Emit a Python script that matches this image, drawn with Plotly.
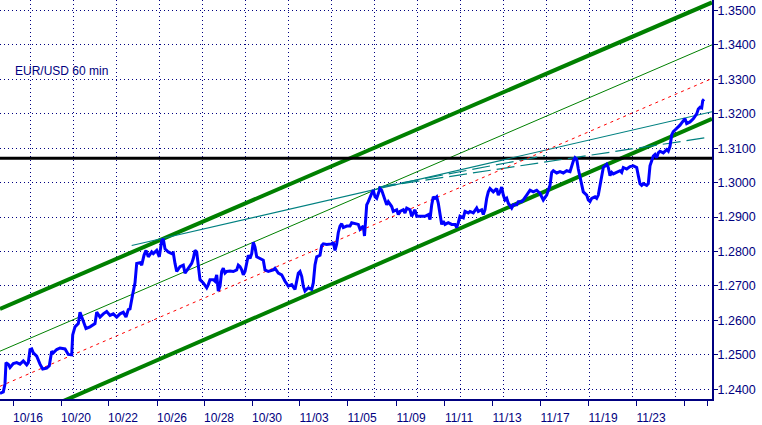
import plotly.graph_objects as go

# ---------------- data (x = hourly bar index, y = EUR/USD price) ----------------
hours = [0, 3.3, 5, 6, 8.3, 10, 13.3, 16.7, 20, 23.3, 26.7, 28.3, 30, 31.7, 33.3, 36.7, 40, 42.7, 46.7, 49.3,
         51.7, 53.3, 56.7, 60, 65, 68.3, 71.7, 72.7, 75, 78.3, 80, 82.7, 86, 90, 95, 96.7, 100, 103.3, 106.7, 110,
         113.3, 116.7, 120, 123.3, 126, 128.3, 130, 132.7, 135, 136.7, 140, 141.7, 144, 146, 148.3, 151.7, 153.3,
         156.7, 159.3, 161.7, 163.3, 165, 168.3, 171.7, 173.3, 175, 176.7, 180,
         183.3, 185, 188.3, 191.7, 193.3, 195, 196.7, 198.3, 200, 203.3, 206.7, 208.3, 210, 213.3, 215, 216.7,
         218.3, 220, 221.7, 223.3, 225, 226.7, 230, 233.3, 236.7, 238.3, 240, 241.7, 243.3, 245, 248.3, 250,
         251.7, 253.3, 255, 256.7, 260, 263.3, 265, 268.3, 273.3, 275, 278.3, 281.7, 285, 288.3, 291.7, 295,
         298.3, 300, 301.7, 303.3, 305, 308.3, 311.7, 313.3, 315, 316.7, 320, 321.7, 323.3, 326.7, 331.7, 333.3,
         335, 336.7, 338.3, 340, 341.7, 343.3, 346.7, 350, 351.7, 355, 358.3, 360,
         363.3, 364.5, 366.7, 368.3, 370, 371.7, 373.3, 375, 376.7, 378.3, 380, 381.7, 383.3, 385, 386.7, 388.3,
         390, 391.7, 393.3, 396.7, 398.3, 400, 403.3, 405, 406.7, 410, 411.7, 413.3, 415, 416.7, 420, 425, 428.3,
         430, 431.7, 433.3, 435, 436.7, 438.3, 440, 441.7, 443.3, 445, 448.3, 451.7, 455, 456.7, 458.3, 460,
         463.3, 465, 468.3, 470, 473.3, 476.7, 478.3, 481.7, 483.3, 485, 486.7, 488.3, 490, 493.3, 496.7, 498.3,
         500, 501.7, 503.3, 505, 506.7, 508.3, 511.7, 513.3, 516.7, 518.3, 521.7, 523.3, 526.7, 530, 533.3,
         536.7, 540,
         543.3, 546.7, 550, 551.7, 553.3, 556.7, 560, 563.3, 566.7, 570, 571.7, 573.3, 575, 576.7, 578.3, 580,
         583.3, 586.7, 588.3, 590, 591.7, 595, 596.7, 598.3, 600, 601.7, 603.3, 606.7, 608.3, 610, 611.7, 613.3,
         616.7, 620, 621.7, 623.3, 626.7, 630, 633.3, 636.7, 638.3, 640, 641.7, 643.3, 646.7, 648.3, 650, 651.7,
         653.3, 655, 656.7, 658.3, 660, 663.3, 666.7, 668.3, 670, 671.7, 673.3, 675, 676.7, 678.3, 680, 681.7,
         683.3, 685, 686.7, 690, 693.3, 696.7, 698.3, 700, 701.7, 702.7, 704]

price = [1.23878, 1.23923, 1.24161, 1.24773, 1.24728, 1.24632, 1.24745, 1.24773, 1.24728, 1.24821, 1.24708,
         1.24773, 1.25153, 1.25170, 1.25057, 1.24963, 1.24728, 1.24586, 1.24615, 1.24680,
         1.25105, 1.25057, 1.25153, 1.25198, 1.25170, 1.25011, 1.25000, 1.25578, 1.25813, 1.25906, 1.26238,
         1.26048, 1.25765, 1.25813, 1.25906, 1.26238, 1.26096, 1.26190, 1.26258, 1.26144,
         1.26190, 1.26096, 1.26190, 1.26238, 1.26096, 1.26314, 1.26331, 1.26756, 1.27088, 1.27654, 1.27674,
         1.27606, 1.27889, 1.28031, 1.27844, 1.27986, 1.27938,
         1.28031, 1.27844, 1.28314, 1.28362, 1.28079, 1.27986, 1.27938, 1.27957, 1.27654, 1.27419, 1.27561,
         1.27606, 1.27371, 1.27513, 1.27654, 1.27796, 1.28031, 1.27986, 1.27606, 1.27181, 1.27088, 1.26946,
         1.27040, 1.27181, 1.27181, 1.27136, 1.27323,
         1.26853, 1.26994, 1.27419, 1.27513, 1.27371, 1.27419, 1.27436, 1.27419, 1.27465, 1.27606, 1.27561,
         1.27465, 1.27323, 1.27419, 1.27889, 1.27796,
         1.27938, 1.28269, 1.28127, 1.27844, 1.27796, 1.27748, 1.27465, 1.27419, 1.27465, 1.27513, 1.27371,
         1.27323, 1.27136, 1.26994, 1.27040, 1.26898,
         1.27371, 1.27419, 1.27278, 1.26994, 1.26853, 1.26946, 1.26898, 1.27088, 1.27606, 1.27844, 1.27889,
         1.28173, 1.28221, 1.28201, 1.28221, 1.28269,
         1.28031, 1.28221, 1.28552, 1.28739, 1.28807, 1.28694, 1.28739, 1.28739, 1.28836, 1.28807, 1.28787,
         1.28646,
         1.28741, 1.28450, 1.29354, 1.29448, 1.29544, 1.29685, 1.29779, 1.29589, 1.29544, 1.29685, 1.29827,
         1.29779, 1.29637, 1.29544, 1.29354, 1.29448,
         1.29354, 1.29306, 1.29164, 1.29212, 1.29071, 1.29164, 1.29212, 1.29119, 1.29261, 1.29212, 1.29023,
         1.29119, 1.29212, 1.29023, 1.29023, 1.29023, 1.29071,
         1.28929, 1.29354, 1.29589, 1.29544, 1.29589, 1.29402, 1.29023, 1.28787, 1.28881, 1.28787, 1.28836,
         1.28787, 1.28787, 1.28694, 1.28836, 1.29023,
         1.28977, 1.29164, 1.29119, 1.29164, 1.29119, 1.29261, 1.29164, 1.29212, 1.29071, 1.29212, 1.29544,
         1.29731, 1.29827, 1.29731, 1.29827, 1.29637,
         1.29731, 1.29872, 1.29637, 1.29496, 1.29544, 1.29402, 1.29261, 1.29354, 1.29354, 1.29448, 1.29448,
         1.29496, 1.29637, 1.29779, 1.29731,
         1.29779, 1.29685,
         1.29496, 1.29637, 1.29921, 1.30297, 1.30345, 1.30280, 1.30317, 1.30280, 1.30345, 1.30317, 1.30487,
         1.30629, 1.30722, 1.30677, 1.30394, 1.30156,
         1.29731, 1.29637, 1.29496, 1.29448, 1.29544, 1.29589, 1.29544, 1.29637, 1.29921, 1.30204, 1.30439,
         1.30535, 1.30439, 1.30204, 1.30297, 1.30252,
         1.30297, 1.30345, 1.30297, 1.30439, 1.30394, 1.30467, 1.30487, 1.30439, 1.30204, 1.29969, 1.29921,
         1.29969, 1.29921, 1.29969, 1.30487, 1.30629,
         1.30771, 1.30819, 1.30722, 1.30864, 1.30912, 1.30864, 1.30960, 1.30912, 1.31054, 1.31385, 1.31479,
         1.31527, 1.31572, 1.31620, 1.31668, 1.31734,
         1.31810, 1.31856, 1.31714, 1.31762, 1.31856, 1.31997, 1.32139, 1.32187, 1.32167, 1.32377, 1.32422]

# trend lines: [start bar, end bar], [start price, end price]
upper_channel_x = [0, 712]
upper_channel_y = [1.26331, 1.35232]
lower_channel_x = [60, 712]
lower_channel_y = [1.23615, 1.31856]
mid_channel_x = [0, 712]
mid_channel_y = [1.25105, 1.34000]
center_x = [0, 712]
center_y = [1.24085, 1.33023]
level_x = [0, 712]
level_y = [1.30705, 1.30705]
fan_a_x = [131.7, 712]
fan_a_y = [1.28173, 1.32059]
fan_b_x = [378, 707]
fan_b_y = [1.29864, 1.31309]
fan_c_x = [378, 545]
fan_c_y = [1.29864, 1.30785]

# axis ticks
date_tick_pos = [13, 61, 108, 157, 204, 252, 299, 347, 396, 444, 492, 540, 588, 636, 684, 707]
date_tick_text = ['10/16', '10/20', '10/22', '10/26', '10/28', '10/30', '11/03', '11/05', '11/09',
                  '11/11', '11/13', '11/17', '11/19', '11/23', '', '']
price_range = [1.237165, 1.353031]
title_text = 'EUR/USD 60 min'

NAVY = '#000080'
FONT = 'Arial, Liberation Sans, sans-serif'

fig = go.Figure()


def seg(x, y, color, width, dash='solid'):
    fig.add_trace(go.Scatter(x=x, y=y, mode='lines', line=dict(color=color, width=width, dash=dash),
                             hoverinfo='skip', showlegend=False))


seg(upper_channel_x, upper_channel_y, '#008000', 4)
seg(lower_channel_x, lower_channel_y, '#008000', 4)
seg(mid_channel_x, mid_channel_y, '#008000', 1)
seg(level_x, level_y, '#000000', 3)
seg(fan_a_x, fan_a_y, '#008080', 1.2)
seg(fan_b_x, fan_b_y, '#008080', 1.2, '18px,6px')
seg(fan_c_x, fan_c_y, '#008080', 1.2, '18px,6px')
seg(center_x, center_y, '#FF0000', 1, '3px,4px')

fig.add_trace(go.Scatter(x=hours, y=price, mode='lines', line=dict(color='#0000FF', width=3),
                         hoverinfo='skip', showlegend=False))

# invisible trace to activate the date-tick axis
fig.add_trace(go.Scatter(x=[hours[0], hours[-1]], y=[price[0], price[-1]], xaxis='x2', mode='markers',
                         marker=dict(opacity=0), hoverinfo='skip', showlegend=False))

fig.update_layout(
    width=762, height=425,
    margin=dict(l=0, r=50, t=0, b=16),
    plot_bgcolor='white', paper_bgcolor='white',
    showlegend=False,
    xaxis=dict(range=[0, 712], showgrid=True, gridcolor=NAVY, griddash='1px,3px', gridwidth=1,
               tick0=30.7, dtick=43, showticklabels=False, ticks='', zeroline=False,
               showline=True, linecolor=NAVY, linewidth=2),
    xaxis2=dict(range=[0, 712], overlaying='x', anchor='y', side='bottom', tickmode='array',
                tickvals=date_tick_pos, ticktext=date_tick_text, ticks='outside', ticklen=6,
                tickcolor=NAVY, tickwidth=1, showgrid=False, showline=False, zeroline=False,
                ticklabelshift=15, ticklabelstandoff=2,
                tickfont=dict(family=FONT, size=12, color=NAVY)),
    yaxis=dict(range=price_range, side='right', tick0=1.24, dtick=0.01, tickformat='.4f',
               showgrid=True, gridcolor=NAVY, griddash='1px,3px', gridwidth=1, zeroline=False,
               ticks='outside', ticklen=4, tickcolor=NAVY, showline=True, linecolor=NAVY, linewidth=2,
               ticklabelstandoff=-3,
               tickfont=dict(family=FONT, size=12.5, color=NAVY)),
    annotations=[dict(text=title_text, xref='paper', yref='paper', x=13 / 712, y=1 - 73 / 409,
                      xanchor='left', yanchor='middle', showarrow=False,
                      font=dict(family='Liberation Sans Narrow, Arial Narrow, ' + FONT, size=12, color=NAVY))],
)

fig.write_html('out.html', config={'displayModeBar': False},
               post_script="document.body.style.margin='0px';")
